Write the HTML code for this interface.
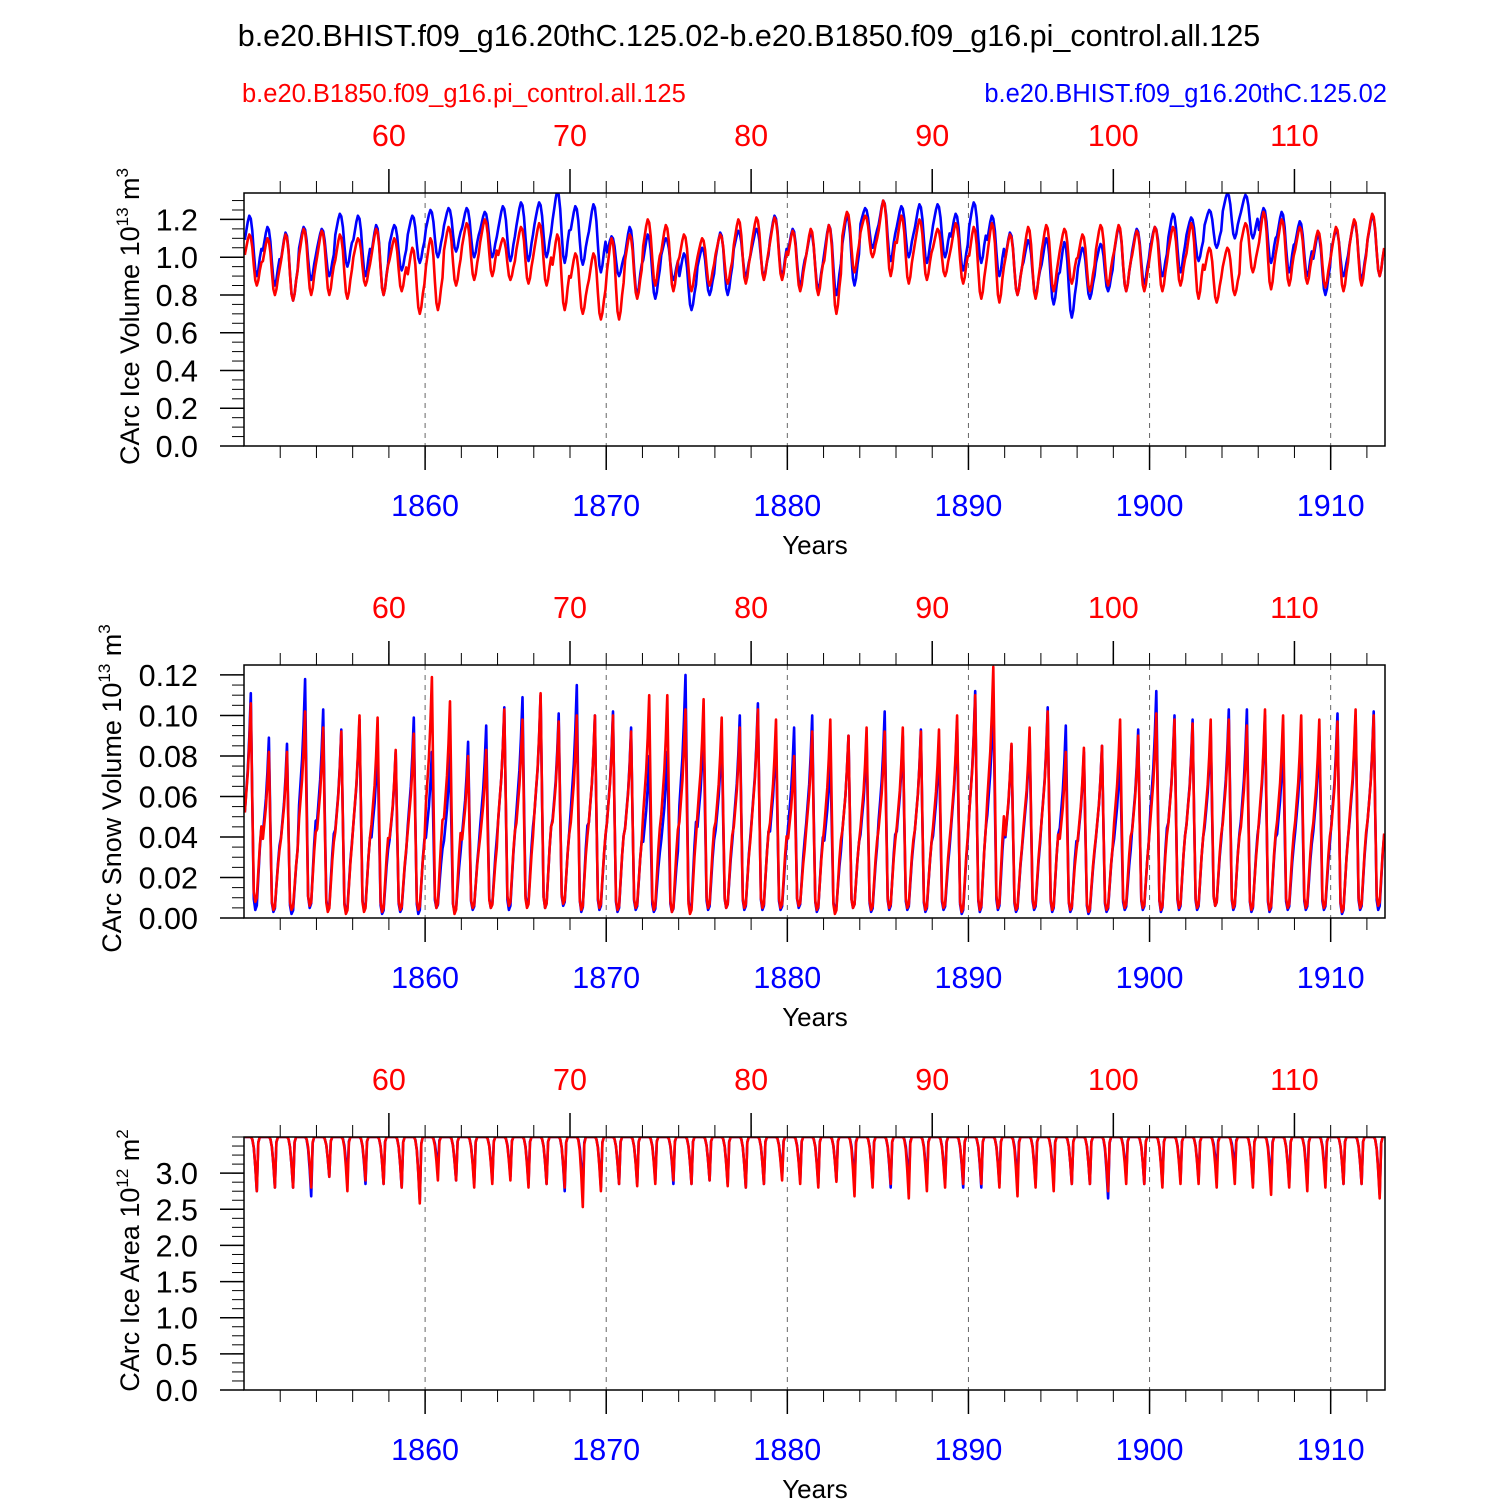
<!DOCTYPE html>
<html><head><meta charset="utf-8">
<style>
html,body{margin:0;padding:0;background:#fff;}
svg{display:block;font-family:"Liberation Sans",Arial,sans-serif;}
</style></head>
<body>
<svg id="chart" width="1500" height="1500" viewBox="0 0 1500 1500" xmlns="http://www.w3.org/2000/svg">
<rect x="0" y="0" width="1500" height="1500" fill="#fff"/>
<text x="749" y="46" font-size="30.5" text-anchor="middle" fill="#000">b.e20.BHIST.f09_g16.20thC.125.02-b.e20.B1850.f09_g16.pi_control.all.125</text>
<text x="242" y="102" font-size="25.5" fill="#ff0000">b.e20.B1850.f09_g16.pi_control.all.125</text>
<text x="1387" y="102" font-size="25.5" text-anchor="end" fill="#0000ff">b.e20.BHIST.f09_g16.20thC.125.02</text>
</svg>
<script>
// ---- data (per-year maxima/minima, years 1850..1912) ----
const startYear = 1850;
const endYear = 1913;
const blueYearTicks = [1860, 1870, 1880, 1890, 1900, 1910];
const redYearTicks = [60, 70, 80, 90, 100, 110];
const redOffset = 1798;

const iceVolBlueMax = [1.22,1.16,1.13,1.16,1.15,1.23,1.22,1.17,1.17,1.22,1.25,1.26,1.26,1.24,1.27,1.29,1.29,1.35,1.27,1.28,1.11,1.16,1.12,1.10,1.02,1.05,1.13,1.14,1.15,1.22,1.15,1.13,1.17,1.22,1.26,1.30,1.27,1.28,1.28,1.23,1.29,1.22,1.13,1.09,1.10,1.08,1.05,1.07,1.16,1.15,1.16,1.23,1.21,1.25,1.34,1.33,1.26,1.24,1.19,1.12,1.14,1.19,1.22];
const iceVolBlueMin = [0.90,0.85,0.77,0.88,0.90,0.95,0.90,0.80,0.93,0.97,1.00,1.03,1.00,1.00,0.98,0.98,1.00,0.97,0.96,0.92,0.90,0.80,0.78,0.88,0.72,0.80,0.80,0.90,0.90,0.90,0.85,0.83,0.80,0.85,1.05,0.98,1.00,0.97,1.00,0.93,0.97,0.90,0.80,0.80,0.75,0.68,0.78,0.82,0.82,0.86,0.90,0.92,0.98,1.05,1.10,1.10,0.97,0.92,0.90,0.80,0.90,0.88,0.90];
const iceVolRedMax = [1.12,1.10,1.12,1.15,1.14,1.12,1.10,1.15,1.10,1.05,1.10,1.16,1.18,1.20,1.10,1.16,1.18,1.12,1.02,1.02,1.10,1.12,1.20,1.17,1.12,1.10,1.12,1.20,1.21,1.21,1.14,1.15,1.17,1.24,1.22,1.30,1.22,1.20,1.15,1.18,1.16,1.18,1.12,1.16,1.17,1.15,1.12,1.17,1.17,1.14,1.16,1.16,1.18,1.05,1.05,1.18,1.24,1.20,1.16,1.14,1.16,1.20,1.23];
const iceVolRedMin = [0.85,0.80,0.77,0.80,0.80,0.78,0.85,0.80,0.82,0.70,0.72,0.85,0.88,0.90,0.88,0.86,0.85,0.72,0.70,0.67,0.67,0.78,0.85,0.82,0.82,0.85,0.86,0.86,0.88,0.88,0.82,0.80,0.70,0.92,1.00,0.90,0.86,0.88,0.90,0.86,0.78,0.76,0.80,0.78,0.82,0.86,0.82,0.85,0.82,0.82,0.82,0.85,0.78,0.76,0.80,0.92,0.83,0.85,0.86,0.84,0.82,0.85,0.90];

const snowBlueMax = [0.111,0.089,0.086,0.118,0.103,0.093,0.098,0.086,0.082,0.099,0.082,0.081,0.087,0.095,0.104,0.109,0.110,0.101,0.115,0.100,0.102,0.094,0.080,0.082,0.120,0.095,0.090,0.100,0.106,0.090,0.094,0.100,0.080,0.090,0.088,0.102,0.090,0.093,0.085,0.097,0.112,0.108,0.085,0.090,0.104,0.095,0.082,0.085,0.082,0.093,0.112,0.100,0.098,0.092,0.103,0.103,0.100,0.087,0.090,0.090,0.101,0.100,0.102];
const snowBlueMin = [0.004,0.003,0.002,0.005,0.004,0.003,0.004,0.002,0.003,0.002,0.005,0.003,0.004,0.005,0.004,0.006,0.005,0.006,0.003,0.004,0.003,0.004,0.003,0.003,0.003,0.004,0.005,0.004,0.004,0.004,0.005,0.003,0.004,0.005,0.003,0.004,0.004,0.003,0.004,0.002,0.003,0.004,0.003,0.004,0.003,0.003,0.002,0.003,0.004,0.004,0.003,0.004,0.004,0.006,0.004,0.003,0.003,0.004,0.004,0.004,0.002,0.004,0.004];
const snowRedMax = [0.106,0.082,0.082,0.102,0.094,0.092,0.100,0.099,0.083,0.091,0.119,0.107,0.080,0.083,0.103,0.098,0.111,0.097,0.100,0.100,0.100,0.092,0.110,0.110,0.103,0.108,0.099,0.094,0.103,0.098,0.080,0.092,0.098,0.090,0.094,0.092,0.094,0.092,0.093,0.100,0.110,0.124,0.086,0.094,0.102,0.082,0.084,0.085,0.098,0.090,0.101,0.098,0.096,0.098,0.098,0.095,0.103,0.100,0.100,0.098,0.097,0.103,0.100];
const snowRedMin = [0.008,0.004,0.004,0.006,0.003,0.002,0.003,0.003,0.004,0.004,0.005,0.002,0.005,0.005,0.006,0.005,0.005,0.007,0.004,0.005,0.004,0.005,0.004,0.003,0.002,0.005,0.005,0.005,0.005,0.005,0.006,0.004,0.002,0.005,0.004,0.005,0.005,0.004,0.005,0.003,0.004,0.005,0.004,0.005,0.004,0.004,0.003,0.004,0.005,0.005,0.004,0.005,0.005,0.006,0.005,0.004,0.004,0.005,0.005,0.005,0.003,0.005,0.006];

const areaMax = [3.5,3.5,3.5,3.5,3.5,3.5,3.5,3.5,3.5,3.5,3.5,3.5,3.5,3.5,3.5,3.5,3.5,3.5,3.5,3.5,3.5,3.5,3.5,3.5,3.5,3.5,3.5,3.5,3.5,3.5,3.5,3.5,3.5,3.5,3.5,3.5,3.5,3.5,3.5,3.5,3.5,3.5,3.5,3.5,3.5,3.5,3.5,3.5,3.5,3.5,3.5,3.5,3.5,3.5,3.5,3.5,3.5,3.5,3.5,3.5,3.5,3.5,3.5];
const areaBlueMin = [2.75,2.80,2.80,2.68,2.95,2.90,2.85,2.85,2.80,2.62,3.05,2.90,2.85,2.90,2.95,2.85,2.85,2.75,2.75,2.80,2.85,2.85,2.90,2.85,2.85,2.90,2.85,2.80,2.85,2.95,2.90,2.85,2.90,2.85,2.85,2.80,2.85,2.85,2.85,2.80,2.80,2.85,2.85,2.85,2.85,2.85,2.85,2.65,2.95,2.85,2.85,2.90,2.90,3.00,3.05,2.85,2.85,2.85,2.85,2.90,2.85,2.85,2.70];
const areaRedMin = [2.75,2.80,2.80,2.80,2.95,2.75,2.90,2.85,2.80,2.58,2.90,2.90,2.80,2.85,2.90,2.80,2.85,2.80,2.53,2.75,2.85,2.82,2.85,2.90,2.85,2.90,2.82,2.80,2.85,2.90,2.85,2.80,2.88,2.68,2.80,2.85,2.65,2.75,2.80,2.85,2.85,2.80,2.68,2.80,2.75,2.85,2.85,2.75,2.85,2.85,2.80,2.85,2.85,2.80,2.85,2.80,2.70,2.80,2.75,2.80,2.85,2.85,2.65];

// seasonal profiles (Jan..Dec) fraction between annual min and max
const iceVolSeason = [0.6,0.75,0.9,1.0,0.95,0.75,0.4,0.1,0.0,0.1,0.3,0.45];
const snowSeason = [0.45,0.55,0.65,0.8,1.0,0.5,0.05,0.0,0.02,0.15,0.28,0.38];
const areaSeason = [1,1,1,1,1,0.96,0.8,0.45,0.0,0.9,1,1];

const yTicksVol = [0.0,0.2,0.4,0.6,0.8,1.0,1.2];
const yTicksSnow = [0.00,0.02,0.04,0.06,0.08,0.10,0.12];
const yTicksArea = [0.0,0.5,1.0,1.5,2.0,2.5,3.0];

// ---- drawing ----
const NS = "http://www.w3.org/2000/svg";
const svg = document.getElementById('chart');
function mk(tag, attrs, parent) {
  const e = document.createElementNS(NS, tag);
  for (const k in attrs) e.setAttribute(k, attrs[k]);
  (parent || svg).appendChild(e);
  return e;
}
const X0 = 244, X1 = 1385;
function xScale(yr) { return X0 + (yr - startYear) / (endYear - startYear) * (X1 - X0); }

const panels = [
  {top:193, bot:446, ymax:1.34, ticks:yTicksVol, minorStep:0.05, dec:1, label:"CArc Ice Volume 10", exp:"13", unit:" m", uexp:"3", labX:130,
   series:[[iceVolBlueMax,iceVolBlueMin,iceVolSeason,'#0000ff','ice-volume-hist-line'],[iceVolRedMax,iceVolRedMin,iceVolSeason,'#ff0000','ice-volume-control-line']], name:'ice-volume-panel'},
  {top:665, bot:918, ymax:0.1249, ticks:yTicksSnow, minorStep:0.005, dec:2, label:"CArc Snow Volume 10", exp:"13", unit:" m", uexp:"3", labX:112,
   series:[[snowBlueMax,snowBlueMin,snowSeason,'#0000ff','snow-volume-hist-line'],[snowRedMax,snowRedMin,snowSeason,'#ff0000','snow-volume-control-line']], name:'snow-volume-panel'},
  {top:1137, bot:1390, ymax:3.5, ticks:yTicksArea, minorStep:0.125, dec:1, label:"CArc Ice Area 10", exp:"12", unit:" m", uexp:"2", labX:130,
   series:[[areaMax,areaBlueMin,areaSeason,'#0000ff','ice-area-hist-line'],[areaMax,areaRedMin,areaSeason,'#ff0000','ice-area-control-line']], name:'ice-area-panel'}
];

panels.forEach((p, pi) => {
  const g = mk('g', {});
  
  
  const yS = v => p.bot - v / p.ymax * (p.bot - p.top);
  const clipId = 'clip' + pi;
  const cp = mk('clipPath', {id: clipId}, g);
  mk('rect', {x: X0, y: p.top, width: X1 - X0, height: p.bot - p.top}, cp);
  blueYearTicks.forEach(t => {
    const l = mk('line', {x1: xScale(t), x2: xScale(t), y1: p.top, y2: p.bot, stroke: '#666', 'stroke-width': 1, 'stroke-dasharray': '5,5'}, g);
    
    
  });
  p.series.forEach(s => {
    const [mx, mn, season, col, nm] = s;
    let pts = [];
    for (let i = 0; i < mx.length; i++) {
      for (let m = 0; m < 12; m++) {
        const v = mn[i] + (mx[i] - mn[i]) * season[m];
        pts.push(xScale(startYear + i + (m + 0.5) / 12).toFixed(1) + ',' + yS(v).toFixed(1));
      }
    }
    const pl = mk('polyline', {points: pts.join(' '), fill: 'none', stroke: col, 'stroke-width': 2.6, 'stroke-linejoin': 'round', 'clip-path': 'url(#' + clipId + ')'}, g);
    
    
  });
  const fr = mk('rect', {x: X0, y: p.top, width: X1 - X0, height: p.bot - p.top, fill: 'none', stroke: '#000', 'stroke-width': 1.5}, g);
  
  
  for (let yr = 1852; yr < endYear; yr += 2) {
    const x = xScale(yr);
    mk('line', {x1: x, x2: x, y1: p.bot, y2: p.bot + 12, stroke: '#000', 'stroke-width': 1}, g);
    mk('line', {x1: x, x2: x, y1: p.top, y2: p.top - 12, stroke: '#000', 'stroke-width': 1}, g);
  }
  blueYearTicks.forEach(t => {
    const x = xScale(t);
    mk('line', {x1: x, x2: x, y1: p.bot, y2: p.bot + 24, stroke: '#000', 'stroke-width': 1.5}, g);
    const tx = mk('text', {x: x, y: p.bot + 70, 'font-size': 30.5, 'text-anchor': 'middle', fill: '#0000ff'}, g);
    tx.textContent = t;
    
    
  });
  redYearTicks.forEach(t => {
    const x = xScale(t + redOffset);
    mk('line', {x1: x, x2: x, y1: p.top, y2: p.top - 24, stroke: '#000', 'stroke-width': 1.5}, g);
    const tx = mk('text', {x: x, y: p.top - 47, 'font-size': 30.5, 'text-anchor': 'middle', fill: '#ff0000'}, g);
    tx.textContent = t;
    
    
  });
  const xt = mk('text', {x: 815, y: p.bot + 108, 'font-size': 26, 'text-anchor': 'middle', fill: '#000'}, g);
  xt.textContent = 'Years';
  
  
  for (let v = 0; v <= p.ymax + 1e-9; v += p.minorStep) {
    mk('line', {x1: X0, x2: X0 - 12, y1: yS(v), y2: yS(v), stroke: '#000', 'stroke-width': 1}, g);
  }
  p.ticks.forEach(t => {
    const y = yS(t);
    mk('line', {x1: X0, x2: X0 - 24, y1: y, y2: y, stroke: '#000', 'stroke-width': 1.5}, g);
    const tx = mk('text', {x: 198, y: y + 11, 'font-size': 30.5, 'text-anchor': 'end', fill: '#000'}, g);
    tx.textContent = t.toFixed(p.dec);
    
    
  });
  const cy = (p.top + p.bot) / 2 - 3;
  const yt = mk('text', {x: 0, y: 0, 'font-size': 27, 'text-anchor': 'middle', fill: '#000', transform: 'translate(' + (p.labX + 9) + ',' + cy + ') rotate(-90)'}, g);
  
  
  yt.innerHTML = p.label + '<tspan font-size="17" dy="-11">' + p.exp + '</tspan><tspan dy="11">' + p.unit + '</tspan><tspan font-size="17" dy="-11">' + p.uexp + '</tspan>';
});
</script>
</body></html>
